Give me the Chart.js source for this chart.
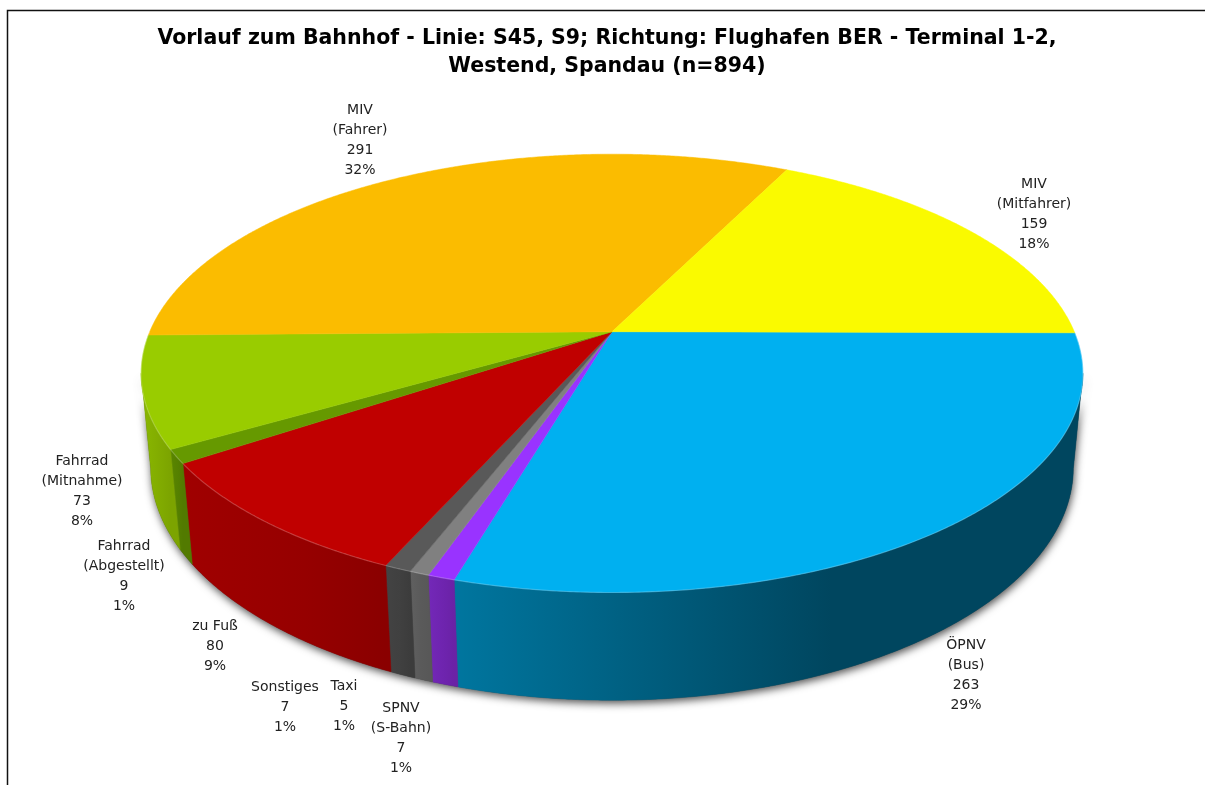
<!DOCTYPE html>
<html>
<head>
<meta charset="utf-8">
<title>Vorlauf zum Bahnhof</title>
<script src="https://cdn.jsdelivr.net/npm/chart.js@4"></script>
<style>
  html, body { margin: 0; padding: 0; background: #fff; overflow: hidden; }
  canvas { display: block; }
</style>
</head>
<body>
<canvas id="myChart" width="1205" height="785"></canvas>
<script>
// Chart data
const categories = [
    ['ÖPNV', '(Bus)'],
    ['SPNV', '(S-Bahn)'],
    ['Taxi'],
    ['Sonstiges'],
    ['zu Fuß'],
    ['Fahrrad', '(Abgestellt)'],
    ['Fahrrad', '(Mitnahme)'],
    ['MIV', '(Fahrer)'],
    ['MIV', '(Mitfahrer)']
];
const counts = [263, 7, 5, 7, 80, 9, 73, 291, 159];
const percents = [29, 1, 1, 1, 9, 1, 8, 32, 18];

const titleLines = [
    'Vorlauf zum Bahnhof - Linie: S45, S9; Richtung: Flughafen BER - Terminal 1-2,',
    'Westend, Spandau (n=894)'
];

const topColors = ['#00B0F0', '#9933FF', '#808080', '#595959', '#C00000', '#669900', '#99CC00', '#FBBC00', '#FAFA00'];
// left, middle and right colour of each slice's wall
const wallColors = [
    ['#00769F', '#00465F', '#00465F'],
    ['#7328B8', '#6E24AE', '#6A22A6'],
    ['#606060', '#5A5A5A', '#585858'],
    ['#434343', '#404040', '#3C3C3C'],
    ['#A00000', '#960000', '#8A0000'],
    ['#5A8600', '#558000', '#527A00'],
    ['#8AB800', '#82AC00', '#7CA400'],
    ['#B08400', '#B08400', '#B08400'],
    ['#B0B000', '#B0B000', '#B0B000']
];

// Where each data label goes (centre x, centre y of first line)
const labelAnchors = [[966, 645], [401, 708], [344, 686], [285, 687], [215, 626], [124, 546], [82, 461], [360, 110], [1034, 184]];

// Perspective of the disc, as a share of the library's outer radius
const spreadX = 1.847;
const spreadY = 0.844;
const depth = 0.378;
const tilt = 0.19;
const sink = 0.02;
const apexShift = 5; // title sits a bit left of the pie

// Maps an angle of the pie on the top (h=0) or bottom (h=1) of the disc
function project(arc, angle, h) {
    const c = Math.cos(angle);
    const s = Math.sin(angle);
    const w = 1 - tilt * s + sink * h;
    return {
        x: arc.x + apexShift + arc.outerRadius * spreadX * c / w,
        y: arc.y + arc.outerRadius * (spreadY * s + depth * h) / w
    };
}

function anglesBetween(from, to) {
    const steps = Math.max(2, Math.ceil((to - from) / 0.006));
    const list = [];
    for (let i = 0; i <= steps; i++) {
        list.push(from + (to - from) * i / steps);
    }
    return list;
}

// the wall is only seen between the two points where the rim turns away
const wallStart = Math.asin(tilt);
const wallEnd = Math.PI - wallStart;

function wallPath(ctx, arc, from, to) {
    ctx.beginPath();
    anglesBetween(from, to).forEach(function (a) {
        const p = project(arc, a, 0);
        ctx.lineTo(p.x, p.y);
    });
    anglesBetween(from, to).reverse().forEach(function (a) {
        const p = project(arc, a, 1);
        ctx.lineTo(p.x, p.y);
    });
    ctx.closePath();
}

function drawShadow(ctx, arc) {
    ctx.save();
    ctx.shadowColor = 'rgba(0,0,0,0.7)';
    ctx.shadowBlur = 8;
    ctx.shadowOffsetX = 1;
    ctx.shadowOffsetY = 3;
    ctx.fillStyle = '#444';
    wallPath(ctx, arc, wallStart, wallEnd);
    ctx.fill();
    ctx.restore();
}

function drawWall(ctx, arc, colors) {
    const from = Math.max(arc.startAngle, wallStart);
    const to = Math.min(arc.endAngle, wallEnd);
    if (to <= from) return;

    const xs = anglesBetween(from, to).map(function (a) { return project(arc, a, 0).x; });
    const grad = ctx.createLinearGradient(Math.min(...xs), 0, Math.max(...xs), 0);
    grad.addColorStop(0, colors[0]);
    grad.addColorStop(0.6, colors[1]);
    grad.addColorStop(1, colors[2]);
    ctx.fillStyle = grad;
    ctx.strokeStyle = grad;
    ctx.lineWidth = 0.5;
    wallPath(ctx, arc, from, to);
    ctx.fill();
    ctx.stroke();
}

function drawTop(ctx, arc, color) {
    ctx.beginPath();
    ctx.moveTo(arc.x + apexShift, arc.y);
    anglesBetween(arc.startAngle, arc.endAngle).forEach(function (a) {
        const p = project(arc, a, 0);
        ctx.lineTo(p.x, p.y);
    });
    ctx.closePath();
    ctx.fillStyle = color;
    ctx.strokeStyle = color;
    ctx.lineWidth = 0.5;
    ctx.fill();
    ctx.stroke();
}

function drawRim(ctx, arc) {
    const from = Math.max(arc.startAngle, 0);
    const to = Math.min(arc.endAngle, Math.PI);
    if (to <= from) return;
    ctx.beginPath();
    anglesBetween(from, to).forEach(function (a) {
        const p = project(arc, a, 0);
        ctx.lineTo(p.x, p.y);
    });
    ctx.strokeStyle = 'rgba(255,255,255,0.2)';
    ctx.lineWidth = 1.2;
    ctx.stroke();
}

function drawLabels(ctx) {
    ctx.save();
    ctx.font = '14px "DejaVu Sans"';
    ctx.fillStyle = '#222';
    ctx.textAlign = 'center';
    ctx.textBaseline = 'middle';
    categories.forEach(function (name, i) {
        const lines = name.concat([String(counts[i]), percents[i] + '%']);
        lines.forEach(function (line, n) {
            ctx.fillText(line, labelAnchors[i][0], labelAnchors[i][1] + n * 20);
        });
    });
    ctx.restore();
}

const pie3d = {
    id: 'pie3d',
    beforeDraw: function (chart) {
        // frame around the chart, open to the right and bottom of the window
        const ctx = chart.ctx;
        ctx.save();
        ctx.fillStyle = '#fff';
        ctx.fillRect(0, 0, chart.width, chart.height);
        ctx.strokeStyle = '#111';
        ctx.lineWidth = 1.5;
        ctx.beginPath();
        ctx.moveTo(7.5, chart.height);
        ctx.lineTo(7.5, 10.5);
        ctx.lineTo(chart.width, 10.5);
        ctx.stroke();
        ctx.restore();
    },
    beforeDatasetsDraw: function (chart) {
        const ctx = chart.ctx;
        const arcs = chart.getDatasetMeta(0).data;
        ctx.save();
        drawShadow(ctx, arcs[0]);
        arcs.forEach(function (arc, i) { drawWall(ctx, arc, wallColors[i]); });
        arcs.forEach(function (arc, i) { drawTop(ctx, arc, topColors[i]); });
        arcs.forEach(function (arc) { drawRim(ctx, arc); });
        ctx.restore();
        drawLabels(ctx);
        return false; // the flat arcs are replaced by the drawing above
    }
};

const ctx = document.getElementById('myChart').getContext('2d');
const myChart = new Chart(ctx, {
    type: 'pie',
    data: {
        labels: categories.map(function (c) { return c.join(' '); }),
        datasets: [{
            data: counts,
            backgroundColor: topColors,
            borderWidth: 0
        }]
    },
    options: {
        responsive: false,
        animation: false,
        rotation: 90.3,
        layout: {
            padding: { left: 9, right: 0, top: 0, bottom: 203 }
        },
        plugins: {
            legend: { display: false },
            tooltip: { enabled: false },
            title: {
                display: true,
                text: titleLines,
                color: '#000',
                font: { family: '"DejaVu Sans"', size: 20.5, weight: 'bold', lineHeight: 1.4 },
                padding: { top: 24, bottom: 0 }
            }
        }
    },
    plugins: [pie3d]
});
</script>
</body>
</html>
